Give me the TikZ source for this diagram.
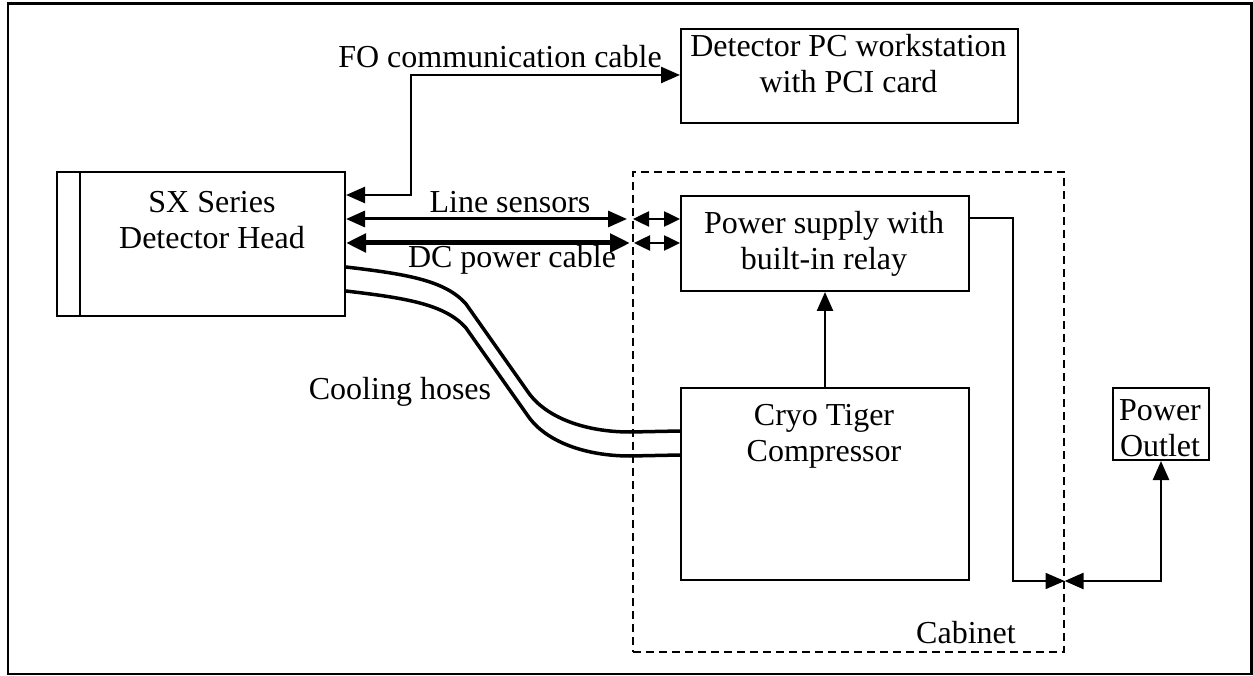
\documentclass[tikz,border=0pt]{standalone}
\usepackage{fontspec}
\setmainfont{Liberation Serif}
\usetikzlibrary{arrows.meta,calc}
\begin{document}
\begin{tikzpicture}[x=1pt,y=-1pt,
  >={Triangle[length=19pt,width=16pt]},
  txt/.style={font=\fontsize{32}{36}\selectfont, align=center, inner sep=0pt},
  box/.style={draw, line width=2pt, inner sep=0pt, anchor=north west},
  wire/.style={line width=2.5pt},
  smallarr/.style={line width=2.5pt, {Triangle[length=16pt,width=15pt]}-{Triangle[length=16pt,width=15pt]}},
  hose/.style={line width=3.5pt}]
\useasboundingbox (0,0) rectangle (1253,676);
\draw[line width=2.5pt] (8,3.5) rectangle (1251.5,674);

% boxes
\node[box, minimum width=288pt, minimum height=144pt] (sx) at (56,171) {};
\draw[line width=2pt] ($(sx.north west)+(24,0)$) -- ($(sx.south west)+(24,0)$);
\node[txt] (sxt) at (212,220) {SX Series\\Detector Head};

\node[box, minimum width=337pt, minimum height=94pt] (pc) at (680,28) {};
\node[txt] (pct) at (848.5,64) {Detector PC workstation\\with PCI card};

\node[draw, dashed, dash pattern=on 8pt off 5pt, line width=1.6pt, minimum width=431pt, minimum height=480pt, anchor=north west, inner sep=0pt] (cab) at (632,171) {};
\node[txt] (cabt) at (966,633) {Cabinet};

\node[box, minimum width=288pt, minimum height=95pt] (ps) at (680,195) {};
\node[txt] (pst) at (824,243.5) {Power supply with\\built-in relay};

\node[box, minimum width=288pt, minimum height=192pt] (comp) at (680,387) {};
\node[txt] (compt) at (824,436) {Cryo Tiger\\Compressor};

\node[box, minimum width=96pt, minimum height=72pt] (outlet) at (1112,387) {};
\node[txt] (outt) at (1160,428) {Power\\Outlet};

% labels
\node[txt] (fol) at (500,57) {FO communication cable};
\node[txt] (lsl) at (510,202) {Line sensors};
\node[txt] (dcl) at (512,260) {DC power cable};
\node[txt] (chl) at (400,392) {Cooling hoses};

% FO cable
\coordinate (fo) at (411,75);
\draw[wire,<->] ($(sx.north east)+(0,24)$) -| (fo) -- (fo -| pc.west);

% line sensors
\draw[line width=3pt,<->] ($(sx.north east)+(0,48)$) -- ($(cab.north west)+(-5,48)$);
\draw[smallarr] ($(cab.north west)+(1,48)$) -- ($(ps.north west)+(0,24)$);

% DC power cable
\draw[line width=5pt,{Triangle[length=20pt,width=18pt]}-{Triangle[length=20pt,width=18pt]}] ($(sx.north east)+(0,72)$) -- ($(cab.north west)+(-2,72)$);
\draw[smallarr] ($(cab.north west)+(2,72)$) -- ($(ps.north west)+(0,48)$);

% compressor to power supply
\draw[wire,->] (comp.north) -- (ps.south);

% power supply to outlet
\draw[line width=1.6pt,->] ($(ps.north east)+(0,23)$) -| ($(comp.south east)+(43,0)$) -- (cab.east |- comp.south);
\draw[wire,<->] (cab.east |- comp.south) -| (outlet.south);

% cooling hoses
\draw[hose] ($(sx.north east)+(0,96)$) .. controls (405,274) and (445,280) .. (466,304)
  -- (528,392) .. controls (546,418) and (586,432) .. (630,432) -- ($(comp.north west)+(0,44)$);
\draw[hose] ($(sx.north east)+(0,120)$) .. controls (405,298) and (445,304) .. (466,328)
  -- (528,416) .. controls (546,442) and (586,456) .. (630,456) -- ($(comp.north west)+(0,68)$);
\end{tikzpicture}
\end{document}
